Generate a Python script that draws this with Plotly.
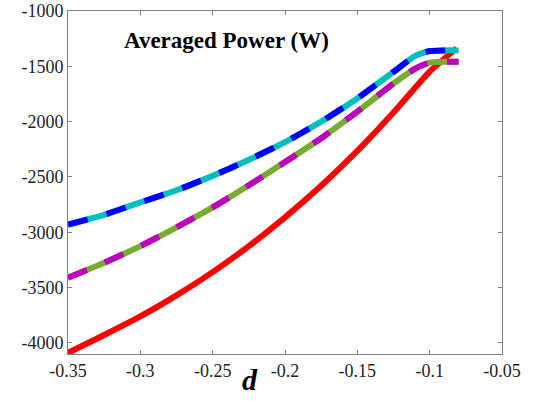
import plotly.graph_objects as go

# Data
d_upper = [-0.35, -0.325, -0.3, -0.275, -0.25, -0.225, -0.2, -0.175, -0.15, -0.125, -0.11, -0.1, -0.09, -0.08]
p_upper = [-2930, -2842, -2730, -2620, -2490, -2345, -2185, -2000, -1790, -1550, -1405, -1362, -1356, -1356]

d_middle = [-0.35, -0.325, -0.3, -0.275, -0.25, -0.225, -0.2, -0.175, -0.15, -0.125, -0.11, -0.1, -0.09, -0.08]
p_middle = [-3410, -3275, -3125, -2955, -2775, -2575, -2365, -2150, -1910, -1655, -1520, -1466, -1458, -1458]

d_lower = [-0.35, -0.325, -0.3, -0.275, -0.25, -0.225, -0.2, -0.175, -0.15, -0.125, -0.1, -0.0814]
p_lower = [-4090, -3928, -3760, -3570, -3360, -3125, -2865, -2580, -2265, -1918, -1548, -1337]

x_ticks = [-0.35, -0.3, -0.25, -0.2, -0.15, -0.1, -0.05]
x_tick_labels = ["-0.35", "-0.3", "-0.25", "-0.2", "-0.15", "-0.1", "-0.05"]
y_ticks = [-4000, -3500, -3000, -2500, -2000, -1500, -1000]
y_tick_labels = ["-4000", "-3500", "-3000", "-2500", "-2000", "-1500", "-1000"]

LW = 6
SM = 0.5
fig = go.Figure()
fig.add_trace(go.Scatter(x=d_lower, y=p_lower, mode="lines",
                         line=dict(color="#FF0000", width=LW, shape="spline", smoothing=SM), showlegend=False))
fig.add_trace(go.Scatter(x=d_upper, y=p_upper, mode="lines",
                         line=dict(color="#00BFBF", width=LW, shape="spline", smoothing=SM), showlegend=False))
fig.add_trace(go.Scatter(x=d_upper, y=p_upper, mode="lines",
                         line=dict(color="#0000FF", width=LW, dash="20px,20px", shape="spline", smoothing=SM), showlegend=False))
fig.add_trace(go.Scatter(x=d_middle, y=p_middle, mode="lines",
                         line=dict(color="#77AC30", width=LW, shape="spline", smoothing=SM), showlegend=False))
fig.add_trace(go.Scatter(x=d_middle, y=p_middle, mode="lines",
                         line=dict(color="#BF00BF", width=LW, dash="20px,20px", shape="spline", smoothing=SM), showlegend=False))

axis_common = dict(
    showgrid=False, zeroline=False, showline=True, linecolor="#808080", linewidth=1,
    mirror="ticks", ticks="inside", ticklen=4, tickcolor="#808080", automargin=False,
    tickfont=dict(family="Liberation Serif", size=18, color="#222222"),
)
fig.update_layout(
    width=533, height=401,
    margin=dict(l=68, r=31, t=11, b=47, autoexpand=False),
    paper_bgcolor="white", plot_bgcolor="white",
    xaxis=dict(range=[-0.35, -0.05], tickvals=x_ticks, ticktext=x_tick_labels, **axis_common),
    yaxis=dict(range=[-4100, -1000], tickvals=y_ticks, ticktext=y_tick_labels, **axis_common),
    annotations=[
        dict(text="<b>Averaged Power (W)</b>", xref="paper", yref="paper",
             x=(122 - 68) / 434, y=(354 - 41) / 343, xanchor="left", yanchor="middle",
             showarrow=False, font=dict(family="Liberation Serif", size=23, color="black")),
        dict(text="<b><i>d</i></b>", xref="paper", yref="paper",
             x=(250 - 68) / 434, y=-(380 - 354) / 343, xanchor="center", yanchor="middle",
             showarrow=False, font=dict(family="Liberation Serif", size=30, color="black")),
    ],
)
fig.write_html("out.html", config={"displayModeBar": False},
               post_script="document.body.style.margin='0';document.body.style.overflow='hidden';")
